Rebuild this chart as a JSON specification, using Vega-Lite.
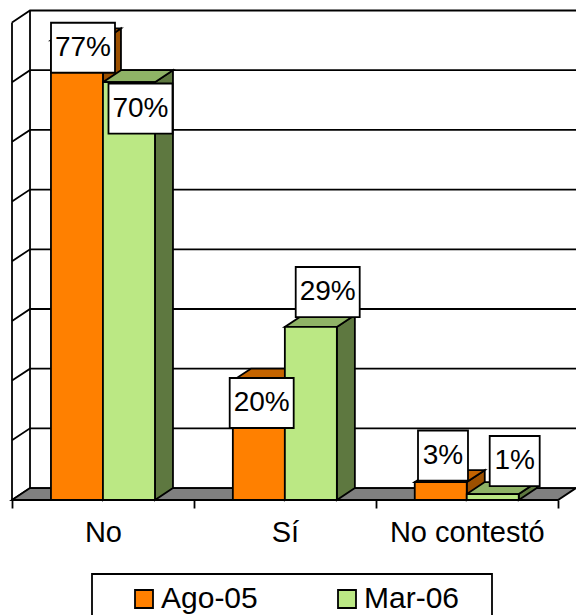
{
"$schema":"https://vega.github.io/schema/vega-lite/v6.json",
"width":564,"height":500,
"autosize":{"type":"none"},
"padding":{"left":12,"top":0,"right":0,"bottom":115},
"background":"white",
"config":{"view":{"stroke":null},"font":"Liberation Sans"},
"datasets":{
"bars":[
{"category":"No","series":"Ago-05","value":77},
{"category":"No","series":"Mar-06","value":70},
{"category":"Sí","series":"Ago-05","value":20},
{"category":"Sí","series":"Mar-06","value":29},
{"category":"No contestó","series":"Ago-05","value":3},
{"category":"No contestó","series":"Mar-06","value":1}
],
"ticks":[{"tick":0},{"tick":10},{"tick":20},{"tick":30},{"tick":40},{"tick":50},{"tick":60},{"tick":70},{"tick":80}]
},
"resolve":{"axis":{"x":"independent"}},
"layer":[
{"data":{"name":"ticks"},
"transform":[{"calculate":"[0,0.099,3.1006]","as":"xs"},{"calculate":"[datum.tick,datum.tick+2,datum.tick+2]","as":"ys"},{"flatten":["xs","ys"]}],
"mark":{"type":"line","stroke":"black","strokeWidth":1.8,"interpolate":"linear"},
"encoding":{
"x":{"field":"xs","type":"quantitative","scale":{"domain":[0,3.1006],"nice":false,"zero":false},"axis":{"orient":"bottom","values":[0,1,2,3],"labels":false,"title":null,"grid":false,"domain":false,"ticks":true,"tickSize":8,"tickColor":"black","tickWidth":1.8}},
"y":{"field":"ys","type":"quantitative","scale":{"domain":[0,83.76],"nice":false,"zero":false},"axis":null},
"detail":{"field":"tick"}}},
{"data":{"name":"ticks"},
"transform":[{"filter":"datum.tick==0"}],
"mark":{"type":"rule","stroke":"black","strokeWidth":1.8},
"encoding":{
"x":{"datum":0,"type":"quantitative","scale":{"domain":[0,3.1006],"nice":false,"zero":false},"axis":null},
"y":{"datum":0,"type":"quantitative","scale":{"domain":[0,83.76],"nice":false,"zero":false},"axis":null},
"y2":{"datum":80}}},
{"data":{"name":"ticks"},
"transform":[{"filter":"datum.tick==0"}],
"mark":{"type":"rule","stroke":"black","strokeWidth":1.8},
"encoding":{
"x":{"datum":0.099,"type":"quantitative","scale":{"domain":[0,3.1006],"nice":false,"zero":false},"axis":null},
"y":{"datum":2,"type":"quantitative","scale":{"domain":[0,83.76],"nice":false,"zero":false},"axis":null},
"y2":{"datum":82}}},
{"data":{"name":"ticks"},
"transform":[{"filter":"datum.tick==0"},{"calculate":"[0,2]","as":"ys"},{"calculate":"[0,0.099]","as":"xa"},{"calculate":"[3.0016,3.1006]","as":"xb"},{"flatten":["ys","xa","xb"]}],
"mark":{"type":"area","orient":"horizontal","fill":"#808080","stroke":"black","strokeWidth":1.8},
"encoding":{
"y":{"field":"ys","type":"quantitative","scale":{"domain":[0,83.76],"nice":false,"zero":false},"axis":null},
"x":{"field":"xa","type":"quantitative","scale":{"domain":[0,3.1006],"nice":false,"zero":false},"axis":null},
"x2":{"field":"xb"}}},
{"data":{"name":"ticks"},
"transform":[{"filter":"datum.tick==0"},{"calculate":"0.4398","as":"x0"},{"calculate":"2.6388","as":"x1"},{"calculate":"-12.4","as":"y0"},{"calculate":"-20","as":"y1"}],
"mark":{"type":"rect","fill":"white","stroke":"black","strokeWidth":1.8},
"encoding":{
"x":{"field":"x0","type":"quantitative","scale":{"domain":[0,3.1006],"nice":false,"zero":false},"axis":null},
"x2":{"field":"x1"},
"y":{"field":"y0","type":"quantitative","scale":{"domain":[0,83.76],"nice":false,"zero":false},"axis":null},
"y2":{"field":"y1"}}},
{"data":{"name":"bars"},
"transform":[
{"calculate":"indexof(['No','Sí','No contestó'],datum.category)","as":"c"},
{"calculate":"datum.series=='Ago-05'?0:1","as":"s"},
{"calculate":"datum.c+0.5-0.2859+datum.s*0.2859","as":"L"},
{"calculate":"datum.series+' lado'","as":"key"},
{"calculate":"[datum.L+0.2859,datum.L+0.2859+0.099]","as":"xs"},
{"calculate":"[datum.value,datum.value+2]","as":"ya"},
{"calculate":"[0,2]","as":"yb"},
{"flatten":["xs","ya","yb"]}],
"mark":{"type":"area","orient":"vertical","stroke":"black","strokeWidth":1.8},
"encoding":{
"x":{"field":"xs","type":"quantitative","scale":{"domain":[0,3.1006],"nice":false,"zero":false},"axis":null},
"y":{"field":"ya","type":"quantitative","scale":{"domain":[0,83.76],"nice":false,"zero":false},"axis":null},
"y2":{"field":"yb"},
"detail":{"field":"category"},
"fill":{"field":"key","type":"nominal","scale":{"domain":["Ago-05","Mar-06","Ago-05 lado","Mar-06 lado","Ago-05 arriba","Mar-06 arriba"],"range":["#FF8000","#BBE884","#9C5000","#5E7840","#C46400","#8FB366"]},
"legend":{"values":["Ago-05","Mar-06"],"title":null,"orient":"none","legendX":80,"legendY":574,"direction":"horizontal","columns":2,"padding":10,"symbolType":"square","symbolSize":324,"symbolStrokeColor":"black","symbolStrokeWidth":1.8,"symbolOffset":27,"labelFontSize":30,"labelFont":"Liberation Sans","labelColor":"black","labelOffset":2,"columnPadding":47,"labelLimit":400}}}},
{"data":{"name":"bars"},
"transform":[
{"calculate":"indexof(['No','Sí','No contestó'],datum.category)","as":"c"},
{"calculate":"datum.series=='Ago-05'?0:1","as":"s"},
{"calculate":"datum.c+0.5-0.2859+datum.s*0.2859","as":"L"},
{"calculate":"datum.series+' arriba'","as":"key"},
{"calculate":"[datum.value,datum.value+2]","as":"ya"},
{"calculate":"[datum.L,datum.L+0.099]","as":"xa"},
{"calculate":"[datum.L+0.2859,datum.L+0.2859+0.099]","as":"xb"},
{"flatten":["ya","xa","xb"]}],
"mark":{"type":"area","orient":"horizontal","stroke":"black","strokeWidth":1.8},
"encoding":{
"y":{"field":"ya","type":"quantitative","scale":{"domain":[0,83.76],"nice":false,"zero":false},"axis":null},
"x":{"field":"xa","type":"quantitative","scale":{"domain":[0,3.1006],"nice":false,"zero":false},"axis":null},
"x2":{"field":"xb"},
"detail":{"field":"category"},
"fill":{"field":"key","type":"nominal","scale":{"domain":["Ago-05","Mar-06","Ago-05 lado","Mar-06 lado","Ago-05 arriba","Mar-06 arriba"],"range":["#FF8000","#BBE884","#9C5000","#5E7840","#C46400","#8FB366"]},
"legend":{"values":["Ago-05","Mar-06"],"title":null,"orient":"none","legendX":80,"legendY":574,"direction":"horizontal","columns":2,"padding":10,"symbolType":"square","symbolSize":324,"symbolStrokeColor":"black","symbolStrokeWidth":1.8,"symbolOffset":27,"labelFontSize":30,"labelFont":"Liberation Sans","labelColor":"black","labelOffset":2,"columnPadding":47,"labelLimit":400}}}},
{"data":{"name":"bars"},
"transform":[
{"calculate":"indexof(['No','Sí','No contestó'],datum.category)","as":"c"},
{"calculate":"datum.series=='Ago-05'?0:1","as":"s"},
{"calculate":"datum.c+0.5-0.2859+datum.s*0.2859","as":"L"},
{"calculate":"datum.L+0.2859","as":"R"}],
"mark":{"type":"rect","stroke":"black","strokeWidth":1.8},
"encoding":{
"x":{"field":"L","type":"quantitative","scale":{"domain":[0,3.1006],"nice":false,"zero":false},
"axis":{"orient":"bottom","values":[0.5,1.5,2.5],"labelExpr":"['No','Sí','No contestó'][floor(datum.value)]","title":null,"grid":false,"domain":false,"ticks":false,"labelFontSize":29,"labelFont":"Liberation Sans","labelColor":"black","labelPadding":18,"labelFlush":false,"labelOverlap":false,"labelBound":false}},
"x2":{"field":"R"},
"y":{"field":"value","type":"quantitative","scale":{"domain":[0,83.76],"nice":false,"zero":false},"axis":null},
"y2":{"datum":0},
"fill":{"field":"series","type":"nominal","scale":{"domain":["Ago-05","Mar-06","Ago-05 lado","Mar-06 lado","Ago-05 arriba","Mar-06 arriba"],"range":["#FF8000","#BBE884","#9C5000","#5E7840","#C46400","#8FB366"]},
"legend":{"values":["Ago-05","Mar-06"],"title":null,"orient":"none","legendX":80,"legendY":574,"direction":"horizontal","columns":2,"padding":10,"symbolType":"square","symbolSize":324,"symbolStrokeColor":"black","symbolStrokeWidth":1.8,"symbolOffset":27,"labelFontSize":30,"labelFont":"Liberation Sans","labelColor":"black","labelOffset":2,"columnPadding":47,"labelLimit":400}}}},
{"data":{"name":"bars"},
"transform":[
{"calculate":"indexof(['No','Sí','No contestó'],datum.category)*2+(datum.series=='Ago-05'?0:1)","as":"k"},
{"calculate":"[0.3903,0.7064,1.3727,1.7356,2.3694,2.7636][datum.k]","as":"lx"},
{"calculate":"[75.76,65.58,16.25,34.84,7.45,6.53][datum.k]","as":"ly"},
{"calculate":"datum.value>=10?0.1759:0.1374","as":"hw"},
{"calculate":"datum.lx-datum.hw","as":"x0"},{"calculate":"datum.lx+datum.hw","as":"x1"},
{"calculate":"datum.ly-4.19","as":"y0"},{"calculate":"datum.ly+4.19","as":"y1"}],
"mark":{"type":"rect","fill":"white","stroke":"black","strokeWidth":1.8},
"encoding":{
"x":{"field":"x0","type":"quantitative","scale":{"domain":[0,3.1006],"nice":false,"zero":false},"axis":null},
"x2":{"field":"x1"},
"y":{"field":"y0","type":"quantitative","scale":{"domain":[0,83.76],"nice":false,"zero":false},"axis":null},
"y2":{"field":"y1"}}},
{"data":{"name":"bars"},
"transform":[
{"calculate":"indexof(['No','Sí','No contestó'],datum.category)*2+(datum.series=='Ago-05'?0:1)","as":"k"},
{"calculate":"[0.3903,0.7064,1.3727,1.7356,2.3694,2.7636][datum.k]","as":"lx"},
{"calculate":"[75.76,65.58,16.25,34.84,7.45,6.53][datum.k]","as":"ly"},
{"calculate":"datum.value+'%'","as":"label"}],
"mark":{"type":"text","align":"center","baseline":"middle","font":"Liberation Sans","fontSize":28,"color":"black"},
"encoding":{
"x":{"field":"lx","type":"quantitative","scale":{"domain":[0,3.1006],"nice":false,"zero":false},"axis":null},
"y":{"field":"ly","type":"quantitative","scale":{"domain":[0,83.76],"nice":false,"zero":false},"axis":null},
"text":{"field":"label"}}}
]
}
